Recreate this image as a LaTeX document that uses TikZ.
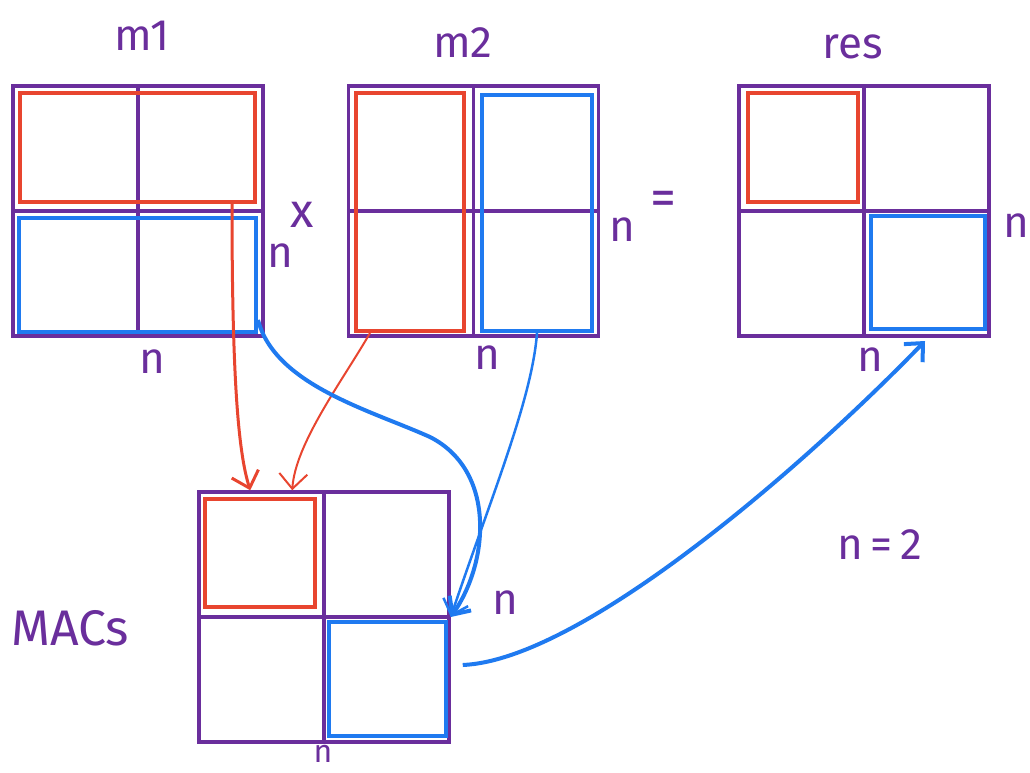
\documentclass[tikz,border=0pt]{standalone}
\usepackage{fontspec}
\setmainfont{Fira Sans}
\usetikzlibrary{positioning,arrows.meta}
\definecolor{InkPurple}{HTML}{6A2E9C}
\definecolor{InkRed}{HTML}{E8452F}
\definecolor{InkBlue}{HTML}{1F7AF0}

\begin{document}
\begin{tikzpicture}[x=1pt, y=-1pt,
        mat/.style={rectangle, draw=InkPurple, line width=3.5pt, minimum width=250pt, minimum height=250pt, inner sep=0pt},
        redpart/.style={rectangle, draw=InkRed, line width=4pt, inner sep=0pt},
        bluepart/.style={rectangle, draw=InkBlue, line width=4pt, inner sep=0pt},
        gridline/.style={draw=InkPurple, line width=3.5pt},
        ink/.style={text=InkPurple, font=\fontsize{44}{46}\selectfont, inner sep=0pt},
        redarrow/.style={draw=InkRed, line width=3pt, -{Straight Barb[length=15pt, width=28pt]}},
        bluearrow/.style={draw=InkBlue, line width=4pt, -{Straight Barb[length=14pt, width=26pt]}}
    ]
        \useasboundingbox (0,0) rectangle (1030,772);

        % the four 2x2 matrices
        \node [mat] (m1) at (138,211) {};
        \node [mat, right=82pt of m1] (m2) {};
        \node [mat, right=137pt of m2] (res) {};
        \node [mat] (macs) at (324,617) {};
        \foreach \m in {m1,m2,res,macs} {
            \draw [gridline] (\m.north) -- (\m.south);
            \draw [gridline] (\m.west) -- (\m.east);
        }

        % highlighted rows, columns and blocks
        \node [redpart, minimum width=235pt, minimum height=109pt] (m1top) at (137.5,147.5) {};
        \node [bluepart, minimum width=237pt, minimum height=114pt] (m1bot) at (137.5,275) {};
        \node [redpart, minimum width=108pt, minimum height=238pt] (m2left) at (410,212) {};
        \node [bluepart, minimum width=110pt, minimum height=236pt] (m2right) at (537,213) {};
        \node [redpart, minimum width=110pt, minimum height=109pt] (res11) at (803,147.5) {};
        \node [bluepart, minimum width=114pt, minimum height=113pt] (res22) at (928,272.5) {};
        \node [redpart, minimum width=110pt, minimum height=108pt] (mac11) at (260,553) {};
        \node [bluepart, minimum width=117pt, minimum height=114pt] (mac22) at (387.5,679) {};

        % labels
        \node [ink] (lm1) at (142,36) {m1};
        \node [ink] (lm2) at (463,43) {m2};
        \node [ink] (lres) at (853,47) {res};
        \node [ink, font=\fontsize{50}{52}\selectfont] (lmacs) at (70,628) {MACs};
        \node [ink, font=\fontsize{48}{50}\selectfont] (times) at (302,215) {x};
        \node [ink, font=\fontsize{52}{54}\selectfont] (equals) at (663,203) {=};
        \node [ink] (nval) at (880,545) {n\,=\,2};
        \node [ink] (nm1r) at (280,256) {n};
        \node [ink] (nm1b) at (152,362) {n};
        \node [ink] (nm2r) at (622,230) {n};
        \node [ink] (nm2b) at (487,358) {n};
        \node [ink] (nresb) at (870,360) {n};
        \node [ink] (nresr) at (1016,226) {n};
        \node [ink] (nmacr) at (505,603) {n};
        \node [ink, font=\fontsize{32}{34}\selectfont] (nmacb) at (323,754) {n};

        % red operands into the first block
        \draw [redarrow] ([xshift=-25pt]m1top.south east) .. controls +(0,174) and +(-12,-38) .. ([xshift=53pt]macs.north west);
        \draw [redarrow, line width=2pt] ([xshift=16pt]m2left.south west) .. controls +(-27,47) and +(3,-47) .. ([xshift=95pt]macs.north west);

        % blue operands into the last block
        \draw [bluearrow] ([yshift=14pt]m1bot.south east) .. controls (275,385) and (370,410) .. (430,437)
            .. controls (495,470) and (490,560) .. (macs.east);
        \draw [bluearrow, line width=2.5pt] (m2right.south) .. controls (532,400) and (490,500) .. (macs.east);

        % result written back
        \draw [bluearrow] ([shift={(12pt,-48pt)}]macs.east) .. controls (580,660) and (800,470) .. ([shift={(-3pt,-10pt)}]res22.south);
    \end{tikzpicture}
\end{document}
